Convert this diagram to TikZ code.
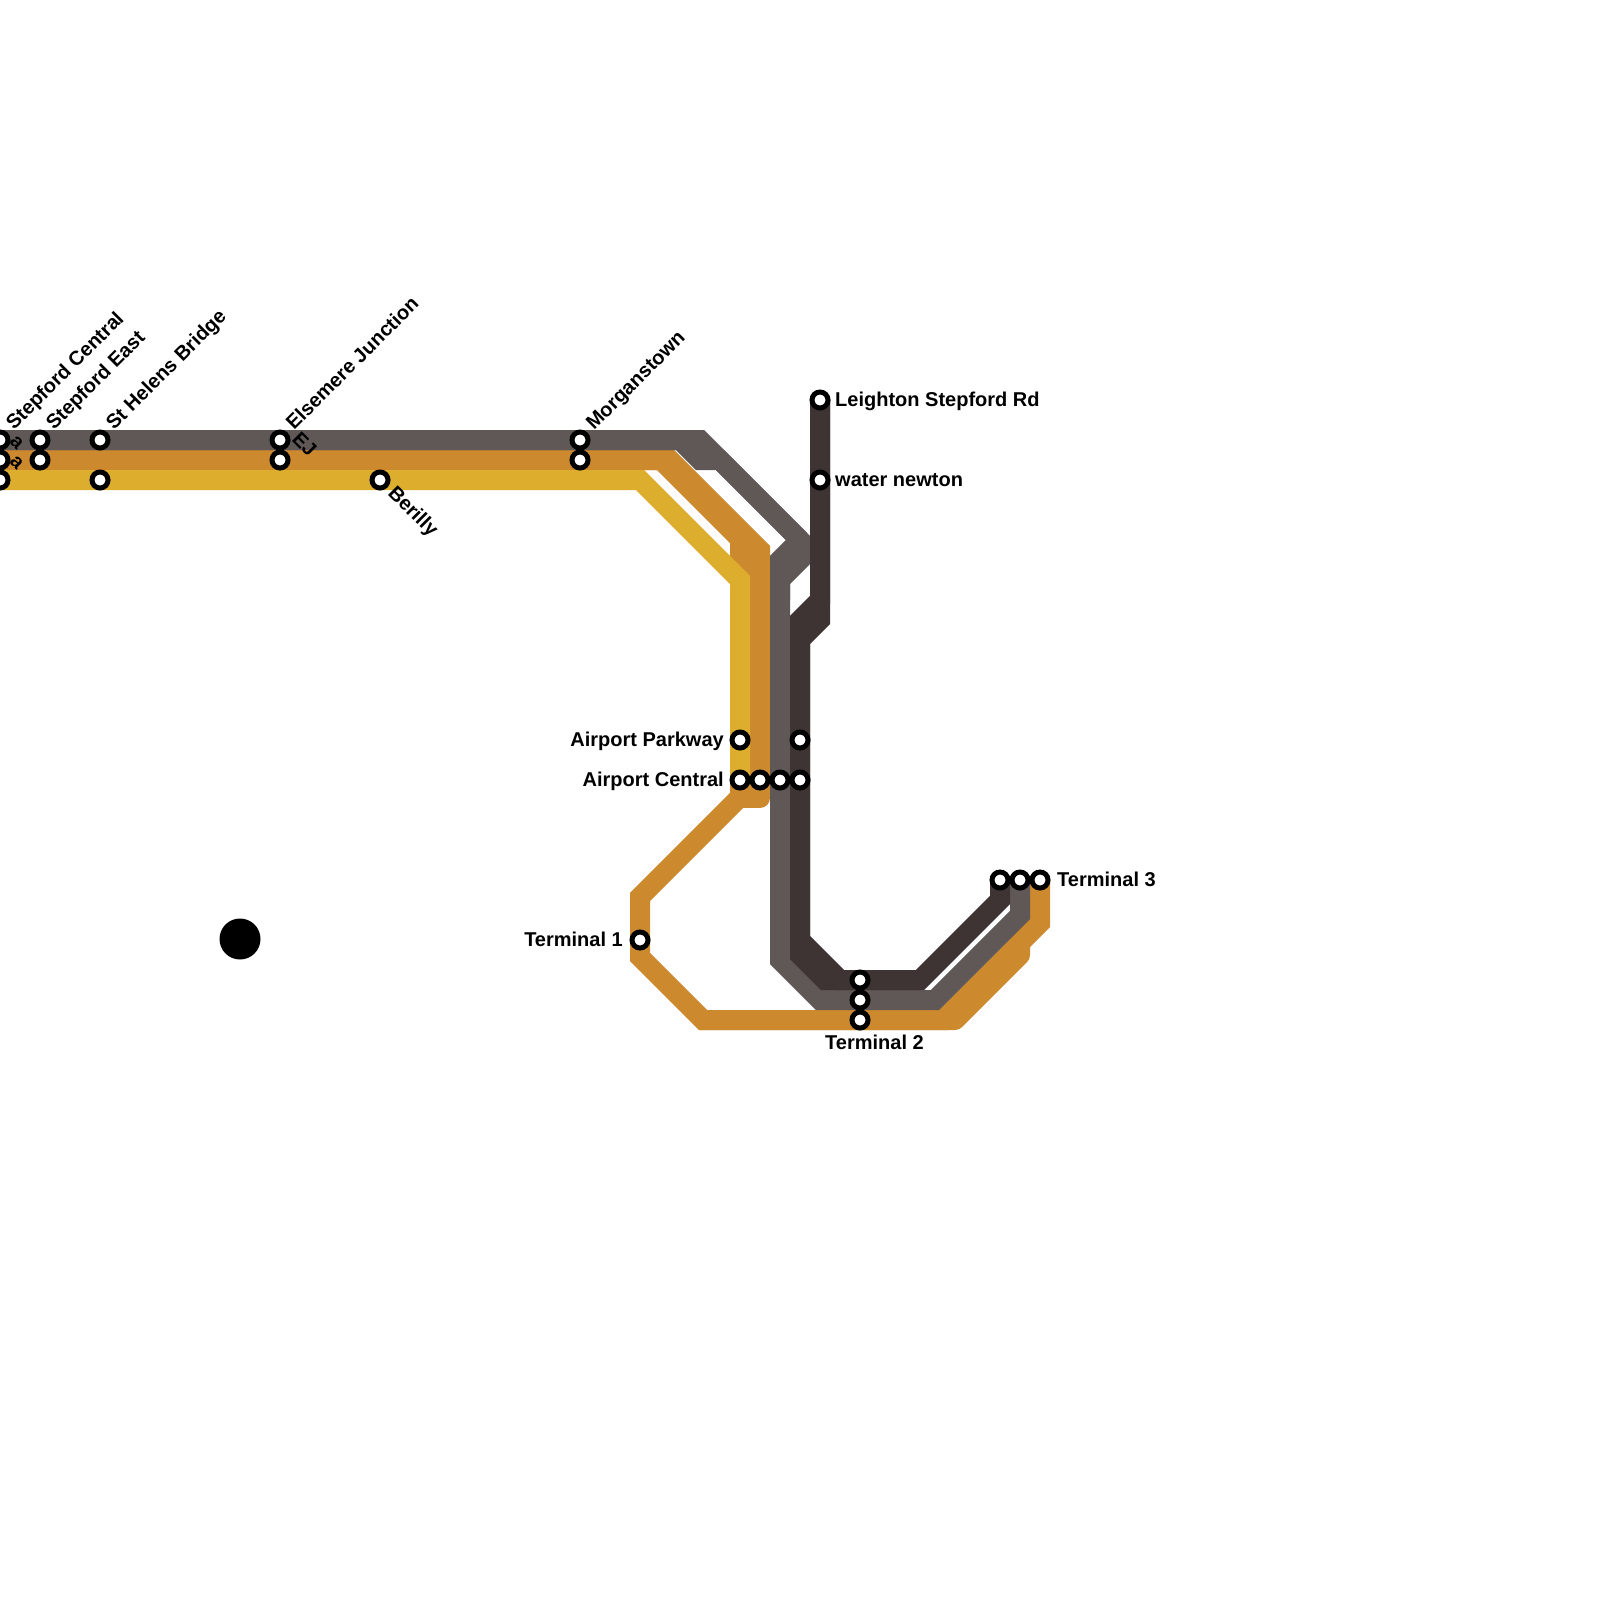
\documentclass[tikz,border=0pt]{standalone}
\usepackage{fontspec}
\setmainfont{Liberation Sans}
\definecolor{lineyellow}{HTML}{DDAE2E}
\definecolor{lineorange}{HTML}{CC892D}
\definecolor{linegrey}{HTML}{5F5856}
\definecolor{linedark}{HTML}{3D3433}
\begin{document}
\begin{tikzpicture}[x=1pt, y=-1pt,
  route/.style={line width=20pt},
  yel/.style={route, lineyellow},
  org/.style={route, lineorange},
  gry/.style={route, linegrey},
  drk/.style={route, linedark},
  stn/.style={circle, draw=black, fill=white, line width=5pt, minimum size=16pt, inner sep=0pt},
  lbl/.style={font=\bfseries\fontsize{20}{21}\selectfont, inner sep=0pt},
  blob/.style={circle, fill=black, minimum size=41pt, inner sep=0pt}]
  \useasboundingbox (0,0) rectangle (1600,1600);
  \fill[white] (0,0) rectangle (1600,1600);
  \clip (0,0) rectangle (1600,1600);
  % orange routes
  \draw[org] (-20,460) -- (670,460) -- (760,550) -- (760,790);
  \draw[org, line join=round] (760,790) -- (760,798) -- (740,798);
  \draw[org] (-20,460) -- (661,460) -- (740,539) -- (740,797) -- (640,897) -- (640,957)
    -- (703,1020) -- (943,1020) -- (1040,923) -- (1040,880);
  \draw[org, line join=round] (1020,880) -- (1020,955) -- (955,1020) -- (700,1020);
  % yellow route
  \draw[yel] (-20,480) -- (640,480) -- (740,580) -- (740,780);
  % grey routes
  \draw[gry] (-20,440) -- (700,440) -- (800,540) -- (800,560) -- (780,580) -- (780,960)
    -- (820,1000) -- (935,1000) -- (1020,915) -- (1020,880);
  \draw[gry] (-20,440) -- (680,440) -- (700,460) -- (720,460) -- (800,540);
  \draw[gry] (800,540) -- (780,560) -- (780,600);
  % dark routes
  \draw[drk] (820,400) -- (820,600) -- (800,620) -- (800,940) -- (840,980) -- (920,980)
    -- (1000,900) -- (1000,880);
  \draw[drk] (820,400) -- (820,620) -- (800,640) -- (800,955) -- (825,980) -- (920,980);
  % stations
  \node[stn] (sc1) at (0,440) {};
  \node[stn] (sc2) at (0,460) {};
  \node[stn] (sc3) at (0,480) {};
  \node[stn] (se1) at (40,440) {};
  \node[stn] (se2) at (40,460) {};
  \node[stn] (sh1) at (100,440) {};
  \node[stn] (sh2) at (100,480) {};
  \node[stn] (ej1) at (280,440) {};
  \node[stn] (ej2) at (280,460) {};
  \node[stn] (ber) at (380,480) {};
  \node[stn] (mor1) at (580,440) {};
  \node[stn] (mor2) at (580,460) {};
  \node[stn] (lei) at (820,400) {};
  \node[stn] (wat) at (820,480) {};
  \node[stn] (ap1) at (740,740) {};
  \node[stn] (ap2) at (800,740) {};
  \node[stn] (ac1) at (740,780) {};
  \node[stn] (ac2) at (760,780) {};
  \node[stn] (ac3) at (780,780) {};
  \node[stn] (ac4) at (800,780) {};
  \node[stn] (t1) at (640,940) {};
  \node[stn] (t2a) at (860,980) {};
  \node[stn] (t2b) at (860,1000) {};
  \node[stn] (t2c) at (860,1020) {};
  \node[stn] (t3a) at (1000,880) {};
  \node[stn] (t3b) at (1020,880) {};
  \node[stn] (t3c) at (1040,880) {};
  \node[blob] (dot) at (240,939) {};
  % labels
  \node[lbl, rotate=45, anchor=base west] (lsc) at ([shift={(14,-9)}]sc1) {Stepford Central};
  \node[lbl, rotate=45, anchor=base west] (lse) at ([shift={(14,-9)}]se1) {Stepford East};
  \node[lbl, rotate=45, anchor=base west] (lsh) at ([shift={(14,-9)}]sh1) {St Helens Bridge};
  \node[lbl, rotate=45, anchor=base west] (lej) at ([shift={(14,-9)}]ej1) {Elsemere Junction};
  \node[lbl, rotate=45, anchor=base west] (lmor) at ([shift={(14,-9)}]mor1) {Morganstown};
  \node[lbl, rotate=-45, anchor=base east] (la1) at ([shift={(17,11)}]sc1) {a};
  \node[lbl, rotate=-45, anchor=base east] (la2) at ([shift={(17,11)}]sc2) {a};
  \node[lbl, rotate=-45, anchor=base west] (lej2) at ([shift={(11,0)}]ej1) {EJ};
  \node[lbl, rotate=-45, anchor=base west] (lber) at ([shift={(7,14)}]ber) {Berilly};
  \node[lbl, anchor=base west] (llei) at ([shift={(15,6)}]lei) {Leighton Stepford Rd};
  \node[lbl, anchor=base west] (lwat) at ([shift={(15,6)}]wat) {water newton};
  \node[lbl, anchor=base east] (lap) at ([shift={(-16,6)}]ap1) {Airport Parkway};
  \node[lbl, anchor=base east] (lac) at ([shift={(-16,6)}]ac1) {Airport Central};
  \node[lbl, anchor=base east] (lt1) at ([shift={(-17,6)}]t1) {Terminal 1};
  \node[lbl, anchor=base west] (lt2) at ([shift={(-35,29)}]t2c) {Terminal 2};
  \node[lbl, anchor=base west] (lt3) at ([shift={(17,6)}]t3c) {Terminal 3};
\end{tikzpicture}
\end{document}
